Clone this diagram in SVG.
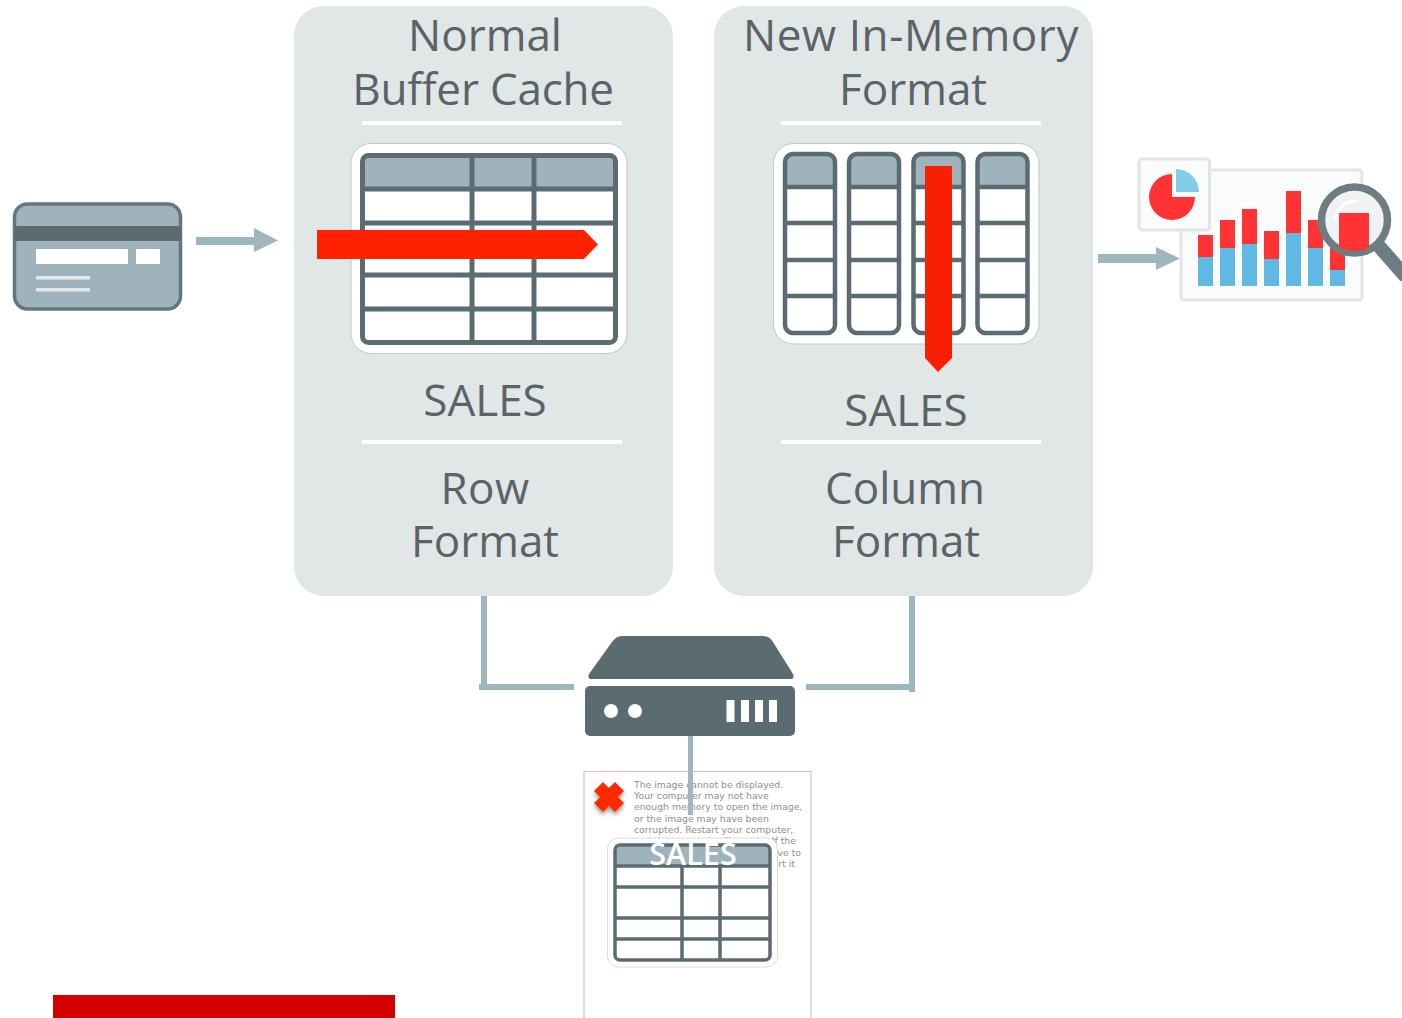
<svg xmlns="http://www.w3.org/2000/svg" width="1402" height="1018" viewBox="0 0 1402 1018">
<style>
.panel{fill:#e1e6e6}
.div{fill:#fff}
.t{font-family:"Open Sans","Noto Sans",sans-serif;font-size:44px;fill:#5a6367;text-anchor:middle}
.card{fill:#fff;stroke:#c4c8c8;stroke-width:1}
.hdr{fill:#9fb3bd}
.g{fill:none;stroke:#5a6b72;stroke-width:5}
.g2{fill:none;stroke:#5a6b72;stroke-width:4.5}
.g3{fill:none;stroke:#5a6b72;stroke-width:3.5}
.conn{fill:#9fb5c0}
.red{fill:#ff3333}
.blue{fill:#5fb9e2}
.small{font-family:"DejaVu Sans",sans-serif;font-size:9.3px;fill:#8e8e8e}
</style>
<defs>
<g id="col">
<rect x="2" y="2" width="50" height="179" rx="8" fill="#fff"/>
<path d="M2 35V10a8 8 0 0 1 8-8h34a8 8 0 0 1 8 8V35z" class="hdr"/>
<rect x="2" y="2" width="50" height="179" rx="8" class="g2"/>
<path d="M2 35H52M2 71H52M2 108H52M2 144H52" class="g2"/>
</g>
<clipPath id="lens"><circle cx="1354.500" cy="220" r="31"/></clipPath>
<filter id="sh" x="-30%" y="-30%" width="160%" height="160%"><feDropShadow dx="0" dy="3" stdDeviation="2" flood-color="#000" flood-opacity=".4"/></filter>
</defs>

<g id="placeholder">
<rect x="584" y="771.500" width="227" height="260" fill="#fff" stroke="#c8c8c8" stroke-width="1.200"/>
<path d="M603 782l6 6 6-6 9 9-6 6 6 6-9 9-6-6-6 6-9-9 6-6-6-6z" fill="#ff2a00" filter="url(#sh)"/>
<text class="small" x="634" y="787.500">The image cannot be displayed.</text>
<text class="small" x="634" y="798.500">Your computer may not have</text>
<text class="small" x="634" y="809.500">enough memory to open the image,</text>
<text class="small" x="634" y="821.500">or the image may have been</text>
<text class="small" x="634" y="832.500">corrupted. Restart your computer,</text>
<text class="small" x="634" y="843.500">and then open the file again. If the</text>
<text class="small" x="801" y="855.500" text-anchor="end">ve to</text>
<text class="small" x="795" y="866.500" text-anchor="end">rt it</text>
</g>

<g id="connectors">
<rect class="conn" x="481" y="596" width="6" height="94"/>
<rect class="conn" x="479" y="684" width="95" height="6"/>
<rect class="conn" x="806" y="684" width="108" height="6"/>
<rect class="conn" x="909" y="596" width="6" height="96"/>
<rect class="conn" x="688" y="736" width="5" height="79"/>
<path class="conn" d="M196 237H254V228L278 240.500 254 252V245H196z"/>
<path class="conn" d="M1098 254H1156V247L1180 258.500 1156 270V263H1098z"/>
</g>

<g id="panel-row">
<rect class="panel" x="294" y="6" width="379" height="590" rx="30"/>
<text class="t" x="485" y="51">Normal</text>
<text class="t" x="483" y="104.500" letter-spacing="-0.2">Buffer Cache</text>
<rect class="div" x="362" y="121" width="260" height="4"/>
<rect class="card" x="351" y="143.500" width="276" height="210" rx="20"/>
<path class="hdr" d="M362 189V160a5 5 0 0 1 5-5H611a5 5 0 0 1 5 5V189z"/>
<rect class="g" x="362.500" y="155.500" width="253" height="187" rx="6"/>
<path class="g" d="M472 155V342M534 155V342M362 189H616M362 223H616M362 275H616M362 309H616"/>
<path fill="#ff2200" d="M317 230H584L598 244.500 584 259H317z"/>
<text class="t" x="485" y="416">SALES</text>
<rect class="div" x="362" y="440" width="260" height="4"/>
<text class="t" x="485" y="504" letter-spacing="0.5">Row</text>
<text class="t" x="485" y="557">Format</text>
</g>

<g id="panel-column">
<rect class="panel" x="714" y="6" width="379" height="590" rx="30"/>
<text class="t" x="911" y="51" letter-spacing="0.6">New In-Memory</text>
<text class="t" x="913" y="104.500">Format</text>
<rect class="div" x="781" y="121" width="260" height="4"/>
<rect class="card" x="773.500" y="143.500" width="265.500" height="200.500" rx="20"/>
<use href="#col" x="783" y="152"/>
<use href="#col" x="847" y="152"/>
<use href="#col" x="911.500" y="152"/>
<use href="#col" x="975.500" y="152"/>
<path fill="#f91f05" d="M925 166H952V358L938 372 925 358z"/>
<text class="t" x="906" y="425.500">SALES</text>
<rect class="div" x="781" y="440" width="260" height="4"/>
<text class="t" x="905" y="504">Column</text>
<text class="t" x="906" y="557">Format</text>
</g>

<g id="card">
<rect x="14.500" y="204" width="166" height="105" rx="13" fill="#9fb3bd" stroke="#64757c" stroke-width="3.500"/>
<rect x="14" y="226" width="167" height="15" fill="#5a6b72"/>
<rect x="36" y="249" width="92" height="15" fill="#fff"/>
<rect x="136" y="249" width="24" height="15" fill="#fff"/>
<rect x="36" y="276" width="54" height="3.500" fill="#e4e8e8"/>
<rect x="36" y="288" width="54" height="3.500" fill="#e4e8e8"/>
</g>

<g id="analytics">
<rect x="1181" y="170" width="181" height="130" rx="3" fill="#fafbfb" stroke="#e4e4e4" stroke-width="3"/>
<rect class="red" x="1198" y="235" width="15" height="23"/><rect class="blue" x="1198" y="257" width="15" height="29"/>
<rect class="red" x="1220" y="220" width="15" height="29"/><rect class="blue" x="1220" y="248" width="15" height="38"/>
<rect class="red" x="1242" y="209" width="15" height="36"/><rect class="blue" x="1242" y="244" width="15" height="42"/>
<rect class="red" x="1264" y="231" width="15" height="29"/><rect class="blue" x="1264" y="259" width="15" height="27"/>
<rect class="red" x="1286" y="191" width="15" height="43"/><rect class="blue" x="1286" y="233" width="15" height="53"/>
<rect class="red" x="1308" y="220" width="15" height="29"/><rect class="blue" x="1308" y="248" width="15" height="38"/>
<rect class="red" x="1330" y="240" width="15" height="31"/><rect class="blue" x="1330" y="270" width="15" height="16"/>
<rect x="1139" y="159" width="70.500" height="71" rx="3" fill="#fafbfb" stroke="#e4e4e4" stroke-width="3"/>
<path class="red" d="M1172 174A23 23 0 1 0 1195 197H1172z"/>
<path fill="#85cbea" d="M1176 169A23 23 0 0 1 1199 192H1176z"/>
<path d="M1378 245L1406 277" stroke="#6e7d84" stroke-width="14" fill="none"/>
<circle cx="1354.500" cy="220" r="33" fill="#f1f3f3" stroke="#6e7d84" stroke-width="7.500"/>
<rect class="red" x="1339" y="213" width="30" height="40" clip-path="url(#lens)"/>
<path d="M1335 218A22 22 0 0 1 1355 201" fill="none" stroke="#fff" stroke-width="3" stroke-linecap="round"/>
</g>

<g id="server">
<path fill="#5a6b72" d="M622 636H763Q770 636 773 642L793 674Q795 679 790 679H592Q587 679 589 674L612 642Q616 636 622 636z"/>
<rect x="585" y="686" width="210" height="50" rx="5" fill="#5a6b72"/>
<circle cx="611" cy="711" r="7" fill="#fff"/>
<circle cx="635" cy="711" r="7" fill="#fff"/>
<rect x="726.500" y="700" width="8" height="22" fill="#fff"/>
<rect x="741" y="700" width="8" height="22" fill="#fff"/>
<rect x="755" y="700" width="8" height="22" fill="#fff"/>
<rect x="769" y="700" width="8" height="22" fill="#fff"/>
</g>

<g id="table-small">
<rect x="607.500" y="838" width="170" height="129" rx="11" fill="#fff" stroke="#dcdcdc"/>
<path class="hdr" d="M615 866V850a5 5 0 0 1 5-5H765a5 5 0 0 1 5 5V866z"/>
<rect class="g3" x="615" y="845" width="155" height="115" rx="5"/>
<path class="g3" d="M682 866V960M720 866V960M615 866H770M615 887H770M615 918H770M615 939H770"/>
<text x="693" y="865" text-anchor="middle" font-family="Open Sans,Noto Sans,sans-serif" font-size="30.500" font-weight="600" fill="#fff">SALES</text>
</g>

<rect id="footer-bar" x="53" y="995" width="342" height="23" fill="#d40000"/>
</svg>
